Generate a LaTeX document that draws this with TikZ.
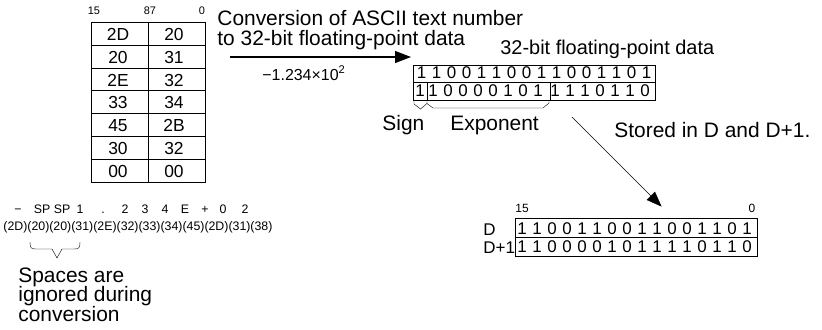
\documentclass[tikz,border=0pt]{standalone}
\usepackage{fontspec}
\setmainfont{Liberation Sans}
\usetikzlibrary{arrows.meta,calc,positioning}

\begin{document}
\begin{tikzpicture}[x=1bp,y=-1bp]
\tikzset{>={Triangle[length=16bp,width=12bp]}, line width=0.8bp,
  lbl/.style={inner sep=0pt, font=\fontsize{21}{20}\selectfont},
  bitnum/.style={inner sep=0pt, font=\fontsize{17}{17}\selectfont},
  cellnum/.style={inner sep=0pt, font=\fontsize{17.5}{17.5}\selectfont},
  small/.style={inner sep=0pt, font=\fontsize{11}{11}\selectfont},
  code/.style={inner sep=0pt, font=\fontsize{12.4}{12.4}\selectfont}}
\useasboundingbox (0,0) rectangle (822,329);

% source words (ASCII)
\node[small] (hdr15) at (94,11) {15};
\node[small] (hdr87) at (150,11) {87};
\node[small] (hdr0) at (202,11) {0};
\draw (91,22) rectangle (205,182);
\draw (148,22) -- (148,182);
\foreach \i in {1,...,6}
  \draw (91,{22+\i*22.857}) -- (205,{22+\i*22.857});
\foreach \l/\r [count=\i from 0] in {2D/20,20/31,2E/32,33/34,45/2B,30/32,00/00} {
  \node[cellnum] (lft\i) at (118,{34.4+\i*22.857}) {\l};
  \node[cellnum] (rgt\i) at (174,{34.4+\i*22.857}) {\r};
}

% conversion arrow
\node[lbl, anchor=north west, align=left] (convlbl) at (217,10)
  {Conversion of ASCII text number\\to 32-bit floating-point data};
\coordinate (convS) at (230,57);
\coordinate (convE) at (411,57);
\draw[->, line width=1.2bp] (convS) -- (convE);
\node[inner sep=0pt, font=\fontsize{16}{16}\selectfont, anchor=base west] (numval) at (262,80)
  {−1.234×10\textsuperscript{2}};

% floating-point data
\node[lbl, font=\fontsize{20}{20}\selectfont, anchor=base west] (fplbl) at (500,54)
  {32-bit floating-point data};
\draw (413,65) rectangle (655,100);
\draw (413,82.5) -- (655,82.5);
\draw (427,82.5) -- (427,100);
\draw (550,82.5) -- (550,100);
\foreach \b [count=\i from 0] in {1,1,0,0,1,1,0,0,1,1,0,0,1,1,0,1}
  \node[bitnum] at ({421.5+15*\i},73) {\b};
\node[bitnum] (signbit) at (420,91) {1};
\foreach \b [count=\i from 0] in {1,0,0,0,0,1,0,1}
  \node[bitnum] at ({433+15*\i},91) {\b};
\foreach \b [count=\i from 0] in {1,1,1,0,1,1,0}
  \node[bitnum] at ({555+15*\i},91) {\b};
\draw (414,100) -- (414,104) -- (420.5,109) -- (427,103.5) -- (427,100);
\draw (427,103.5) -- (433,108) -- (543,108) -- (549,103) -- (549,100);
\node[lbl, anchor=base west] (signlbl) at (382,130) {Sign};
\node[lbl, anchor=base west] (explbl) at (450,130) {Exponent};

% storing
\node[lbl, anchor=base west] (storelbl) at (614,137) {Stored in D and D+1.};
\coordinate (stoS) at (572,117);
\coordinate (stoE) at (662,207);
\draw[->] (stoS) -- (stoE);

% D and D+1
\node[inner sep=0pt, font=\fontsize{12}{12}\selectfont] (bit15) at (522,208) {15};
\node[inner sep=0pt, font=\fontsize{12}{12}\selectfont] (bit0) at (752,208) {0};
\draw (515,218) rectangle (757,256);
\draw (515,237) -- (757,237);
\node[bitnum, anchor=base west] (dlbl) at (483,235) {D};
\node[bitnum, anchor=base west] (d1lbl) at (483,253) {D+1};
\foreach \b [count=\i from 0] in {1,1,0,0,1,1,0,0,1,1,0,0,1,1,0,1}
  \node[bitnum] at ({522+15*\i},228.5) {\b};
\foreach \b [count=\i from 0] in {1,1,0,0,0,0,1,0,1,1,1,1,0,1,1,0}
  \node[bitnum] at ({522+15*\i},246.5) {\b};

% ASCII characters
\foreach \c/\x [count=\i] in {−/18,SP/42,SP/62,1/80,./103,2/125,3/145,4/165,E/185,+/205,0/223,2/245}
  \node[code, anchor=base] (chr\i) at (\x,213) {\c};
\node[code, anchor=base west] (hexrow) at (3,230)
  {(2D)(20)(20)(31)(2E)(32)(33)(34)(45)(2D)(31)(38)};
\draw (30,242) .. controls (30,248) and (31,249) .. (36,249) -- (52,249) -- (57,258)
  -- (62,249) -- (74,249) .. controls (79,249) and (80,248) .. (80,242);
\node[lbl, anchor=north west, align=left] (spclbl) at (18,267)
  {Spaces are\\ignored during\\conversion};
\end{tikzpicture}
\end{document}
